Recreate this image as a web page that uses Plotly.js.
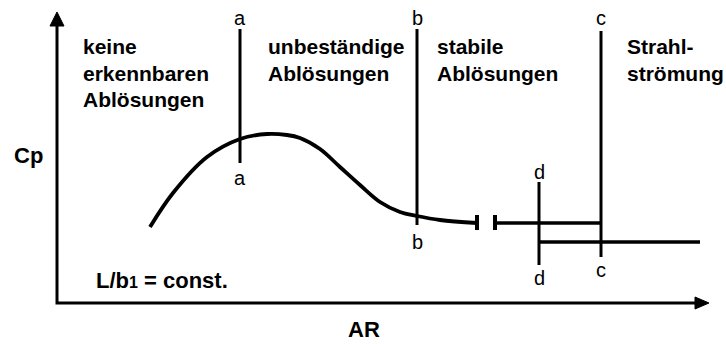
<!DOCTYPE html>
<html>
<head>
<meta charset="utf-8">
<script src="https://cdn.plot.ly/plotly-3.0.1.min.js"></script>
<style>html,body{margin:0;padding:0;background:#fff;}#chart{width:726px;height:344px;}</style>
</head>
<body>
<div id="chart"></div>
<script>
// Schematic Cp over AR (diagram coordinates)
const curveX = [150, 173, 207, 240, 267, 287, 300, 320, 340, 360, 380, 400, 417, 440, 477];
const curveY = [227, 193, 157, 139, 134, 135, 138, 149, 167, 185, 202, 212, 216, 220, 223];

const upperFlatX = [495, 601];
const upperFlatY = [223, 223];
const lowerFlatX = [540, 700];
const lowerFlatY = [242, 242];

const breakTickX = [477, 495];
const breakTickY = [215, 230];

const sepNames = ['a', 'b', 'c', 'd'];
const sepX = [240, 417, 601, 539];
const sepTop = [29, 29, 31, 182];
const sepBottom = [163, 225, 257, 265];
const sepLabelTopY = [18, 18, 18, 172];
const sepLabelBotY = [178, 242, 270, 278];

const regionText = ['keine', 'erkennbaren', 'Ablösungen', 'unbeständige', 'Ablösungen', 'stabile', 'Ablösungen', 'Strahl-', 'strömung'];
const regionX = [81, 81, 81, 266, 266, 435, 435, 625, 625];
const regionY = [46, 73, 99, 46, 73, 46, 73, 46, 73];

const axisOriginX = 57, axisOriginY = 303;
const yAxisTopY = 12, xAxisEndX = 709;

const traces = [];
const lineStyle = (w) => ({color: '#000', width: w});

// curve
traces.push({x: curveX, y: curveY, mode: 'lines', line: Object.assign(lineStyle(3.8), {shape: 'spline', smoothing: 1.0})});
// flat lines
traces.push({x: upperFlatX, y: upperFlatY, mode: 'lines', line: lineStyle(3.5)});
traces.push({x: lowerFlatX, y: lowerFlatY, mode: 'lines', line: lineStyle(3.5)});
// break ticks
breakTickX.forEach(bx => traces.push({x: [bx, bx], y: breakTickY, mode: 'lines', line: lineStyle(4)}));
// separators
sepX.forEach((sx, i) => traces.push({x: [sx, sx], y: [sepTop[i], sepBottom[i]], mode: 'lines', line: lineStyle(3)}));
// axes
traces.push({x: [axisOriginX, axisOriginX, xAxisEndX - 12], y: [yAxisTopY + 12, axisOriginY, axisOriginY], mode: 'lines', line: lineStyle(3)});
// arrowheads
traces.push({x: [axisOriginX - 7, axisOriginX, axisOriginX + 7, axisOriginX - 7], y: [yAxisTopY + 14, yAxisTopY, yAxisTopY + 14, yAxisTopY + 14], mode: 'lines', fill: 'toself', fillcolor: '#000', line: lineStyle(1)});
traces.push({x: [xAxisEndX - 14, xAxisEndX, xAxisEndX - 14, xAxisEndX - 14], y: [axisOriginY - 6, axisOriginY, axisOriginY + 6, axisOriginY - 6], mode: 'lines', fill: 'toself', fillcolor: '#000', line: lineStyle(1)});

const boldFont = {family: 'Liberation Sans, Arial, sans-serif', size: 21, color: '#000', weight: 'bold'};
const regFont = {family: 'Liberation Sans, Arial, sans-serif', size: 20, color: '#000'};

const annotations = [];
regionText.forEach((t, i) => annotations.push({x: regionX[i], y: regionY[i], text: '<b>' + t + '</b>', showarrow: false, xanchor: 'left', yanchor: 'middle', font: boldFont}));
sepNames.forEach((n, i) => {
  annotations.push({x: sepX[i], y: sepLabelTopY[i], text: n, showarrow: false, xanchor: 'center', yanchor: 'middle', font: regFont});
  annotations.push({x: sepX[i], y: sepLabelBotY[i], text: n, showarrow: false, xanchor: 'center', yanchor: 'middle', font: regFont});
});
annotations.push({x: 28, y: 155, text: '<b>Cp</b>', showarrow: false, xanchor: 'center', yanchor: 'middle', font: Object.assign({}, boldFont, {size: 22})});
annotations.push({x: 364, y: 329, text: '<b>AR</b>', showarrow: false, xanchor: 'center', yanchor: 'middle', font: Object.assign({}, boldFont, {size: 22})});
annotations.push({x: 94, y: 280, text: '<b>L/b<span style="font-size:16px">1</span> = const.</b>', showarrow: false, xanchor: 'left', yanchor: 'middle', font: Object.assign({}, boldFont, {size: 22})});

const layout = {
  width: 726, height: 344,
  margin: {l: 0, r: 0, t: 0, b: 0},
  paper_bgcolor: '#fff', plot_bgcolor: '#fff',
  showlegend: false,
  xaxis: {range: [0, 726], visible: false, fixedrange: true},
  yaxis: {range: [344, 0], visible: false, fixedrange: true},
  annotations: annotations
};
traces.forEach(t => { t.hoverinfo = 'skip'; t.showlegend = false; });
Plotly.newPlot('chart', traces, layout, {staticPlot: true, displayModeBar: false});
</script>
</body>
</html>
